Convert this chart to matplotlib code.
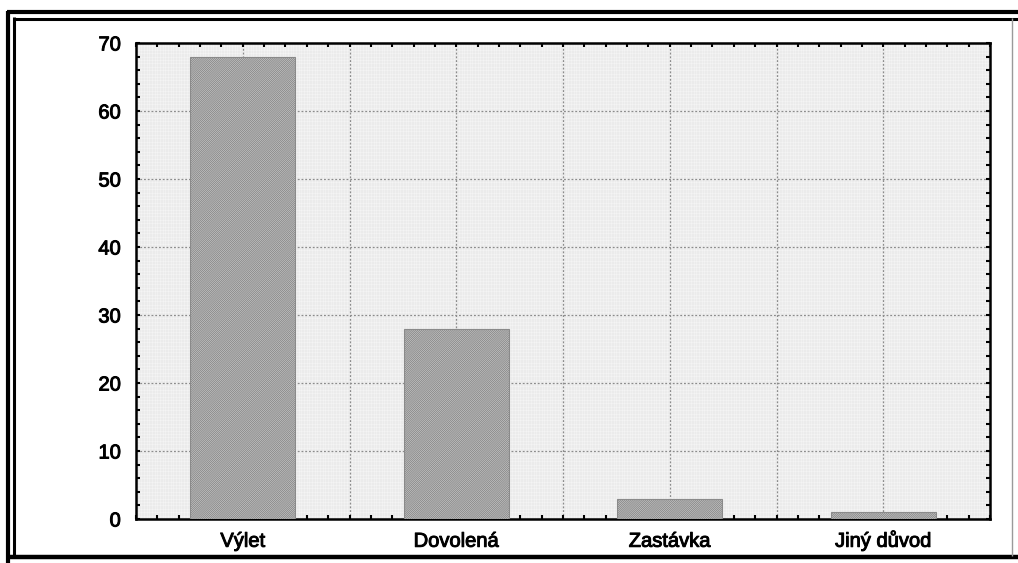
import matplotlib
matplotlib.use("Agg")
import matplotlib.pyplot as plt
from matplotlib.lines import Line2D
from matplotlib.ticker import MultipleLocator
import matplotlib.patheffects as pe
import numpy as np

categories = ["Výlet", "Dovolená", "Zastávka", "Jiný důvod"]
values = [68, 28, 3, 1]
y_ticks = [0, 10, 20, 30, 40, 50, 60, 70]

plt.rcParams['font.family'] = ['Liberation Sans', 'DejaVu Sans']
plt.rcParams['hatch.color'] = '#555555'
plt.rcParams['hatch.linewidth'] = 0.7

W, H = 1018, 563
fig = plt.figure(figsize=(W / 100, H / 100), dpi=100)
fig.patch.set_facecolor('white')


def fline(x0, y0, x1, y1, lw, color='black'):
    fig.add_artist(Line2D([x0 / W, x1 / W], [1 - y0 / H, 1 - y1 / H],
                          transform=fig.transFigure, color=color, lw=lw,
                          solid_capstyle='butt'))


# frame (double on top/left, single heavy at bottom)
fline(7, 12, 1018, 12, 3.0)
fline(7.5, 11, 7.5, 563, 3.0)
fline(13, 18.5, 1018, 18.5, 2.2)
fline(13.5, 17, 13.5, 558, 2.2)
fline(7, 557, 1018, 557, 3.2)
fline(1012, 18, 1012, 556, 1.0, '#9a9a9a')

left, right, top, bottom = 136, 990, 43, 519
ax = fig.add_axes([left / W, 1 - bottom / H, (right - left) / W, (bottom - top) / H])
ax.set_facecolor('#ebebeb')

x = np.arange(len(categories))
ax.bar(x, values, width=0.49, facecolor='#d6d6d6', edgecolor='#8a8a8a',
       hatch='/' * 16, linewidth=0.8, zorder=3)

ax.set_xlim(-0.5, len(categories) - 0.5)
ax.set_ylim(0, 70)

ax.xaxis.set_minor_locator(MultipleLocator(0.1))
ax.yaxis.set_minor_locator(MultipleLocator(2))

# fine background screen
for v in np.arange(-0.5, 3.5, 0.0125):
    ax.axvline(v, color='white', lw=0.5, alpha=0.4, zorder=0.5)
for v in np.arange(0, 70, 0.5):
    ax.axhline(v, color='white', lw=0.5, alpha=0.4, zorder=0.5)

# major dotted grid
ax.set_yticks(y_ticks)
for yv in y_ticks[1:-1]:
    ax.axhline(yv, color='#8c8c8c', lw=0.9, ls=(0, (1.5, 1.5)), zorder=1)
for xv in np.arange(0, 3.51, 0.5):
    ax.axvline(xv, color='#8c8c8c', lw=0.9, ls=(0, (1.5, 1.5)), zorder=1)

ax.set_xticks(x)
ax.set_xticklabels(categories)
ax.tick_params(axis='both', which='both', direction='in', top=True, right=True,
               labelsize=14.5, color='black')
ax.tick_params(axis='both', which='major', length=3, width=1.5)
ax.tick_params(axis='both', which='minor', length=3, width=1.5)
ax.tick_params(axis='x', which='major', pad=20)
ax.tick_params(axis='y', which='major', pad=11)
thick = [pe.withStroke(linewidth=0.7, foreground='black')]
for lab in ax.get_xticklabels():
    lab.set_verticalalignment('baseline')
    lab.set_path_effects(thick)
for lab in ax.get_yticklabels():
    lab.set_path_effects(thick)
for s in ax.spines.values():
    s.set_linewidth(1.8)
    s.set_color('black')

fig.savefig('out.png', dpi=100)
